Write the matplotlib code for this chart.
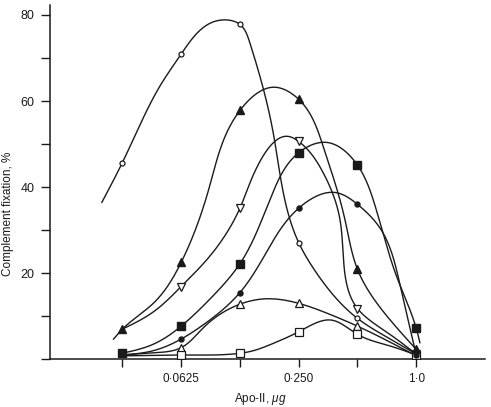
import numpy as np
import matplotlib
matplotlib.use("Agg")
import matplotlib.pyplot as plt
from matplotlib.ticker import NullLocator, FixedLocator

plt.rcParams['font.family'] = ['Liberation Sans', 'DejaVu Sans']
plt.rcParams['mathtext.fontset'] = 'custom'
plt.rcParams['mathtext.it'] = 'Liberation Sans:italic'
plt.rcParams['mathtext.rm'] = 'Liberation Sans'

# Apo-II dose, ug (log2 steps)
doses = [0.03125, 0.0625, 0.125, 0.25, 0.5, 1.0]
dose_labels = ['', '0\u00b70625', '', '0\u00b7250', '', '1\u00b70']

# complement fixation, % (markers); nan = hidden under another marker
open_circle = [45.7, 70.9, 77.8, 27.1, 9.5, 1.2]
filled_tri = [7.0, 22.5, 57.8, 60.4, 20.9, 2.3]
open_vtri = [np.nan, 16.9, 35.1, 50.6, 11.8, 1.2]
filled_sq = [1.4, 7.7, 22.2, 48.0, 45.1, 7.2]
filled_dot = [np.nan, 4.7, 15.5, 35.1, 36.0, 1.0]
open_tri = [np.nan, 2.7, 12.8, 13.0, 7.7, 0.8]
open_sq = [np.nan, 1.0, 1.4, 6.4, 5.8, 1.0]

# hand-drawn curves, points
circle_cx = [0.0245, 0.03125, 0.0385, 0.0487, 0.0625, 0.0968, 0.125, 0.1408, 0.1853, 0.25, 0.309, 0.5, 0.717, 1.0]
circle_cy = [36.4, 45.7, 54.5, 63.5, 70.9, 78.7, 77.8, 73.4, 52.5, 27.1, 20.0, 9.5, 5.0, 1.2]
tri_cx = [0.0281, 0.03125, 0.0450, 0.0625, 0.0878, 0.125, 0.1890, 0.25, 0.334, 0.4316, 0.5, 0.700, 1.0]
tri_cy = [4.65, 7.0, 13.0, 22.5, 40.5, 57.8, 63.2, 60.4, 49.4, 32.4, 20.9, 10.3, 2.3]
vtri_cx = [0.03125, 0.0450, 0.0625, 0.0878, 0.125, 0.1523, 0.2256, 0.25, 0.334, 0.407, 0.5, 0.717, 1.0]
vtri_cy = [7.0, 11.0, 16.9, 24.0, 35.1, 44.5, 51.7, 50.6, 43.3, 32.4, 11.8, 6.1, 1.2]
sq_cx = [0.03125, 0.0450, 0.0625, 0.0878, 0.125, 0.1853, 0.25, 0.345, 0.5, 0.6025, 0.794, 1.0, 1.045]
sq_cy = [1.4, 3.5, 7.7, 14.0, 22.2, 39.0, 48.0, 50.4, 45.1, 37.0, 19.2, 7.2, 3.8]
dot_cx = [0.03125, 0.0450, 0.0625, 0.0811, 0.125, 0.1751, 0.25, 0.391, 0.5, 0.652, 0.826, 1.0]
dot_cy = [1.0, 2.0, 4.7, 8.0, 15.5, 25.7, 35.1, 38.7, 36.0, 30.5, 17.3, 1.0]
otri_cx = [0.03125, 0.0450, 0.0625, 0.0811, 0.125, 0.1621, 0.25, 0.363, 0.5, 0.734, 1.0]
otri_cy = [1.0, 1.5, 2.7, 7.3, 12.8, 14.0, 13.0, 10.4, 7.7, 4.0, 0.8]
osq_cx = [0.03125, 0.0450, 0.0625, 0.125, 0.1408, 0.1853, 0.25, 0.369, 0.5, 0.734, 1.0]
osq_cy = [0.8, 0.9, 1.0, 1.4, 1.8, 3.7, 6.4, 9.1, 5.8, 3.1, 1.0]

PX_X = 58.77   # px per doubling
PX_Y = 4.304   # px per percent


def nat_spline(t, v, tt):
    n = len(t)
    h = np.diff(t)
    A = np.zeros((n, n))
    r = np.zeros(n)
    A[0, 0] = A[-1, -1] = 1
    for i in range(1, n - 1):
        A[i, i - 1] = h[i - 1]
        A[i, i] = 2 * (h[i - 1] + h[i])
        A[i, i + 1] = h[i]
        r[i] = 6 * ((v[i + 1] - v[i]) / h[i] - (v[i] - v[i - 1]) / h[i - 1])
    M = np.linalg.solve(A, r)
    k = np.clip(np.searchsorted(t, tt) - 1, 0, n - 2)
    a = t[k + 1] - tt
    b = tt - t[k]
    hk = h[k]
    return (M[k] * a ** 3 + M[k + 1] * b ** 3) / (6 * hk) \
        + (v[k] / hk - M[k] * hk / 6) * a + (v[k + 1] / hk - M[k + 1] * hk / 6) * b


def smooth(xs, ys, n=500):
    # parametric cubic spline, chord length measured in screen pixels
    u = np.log2(xs) * PX_X
    w = np.asarray(ys, float) * PX_Y
    t = np.concatenate([[0], np.cumsum(np.hypot(np.diff(u), np.diff(w)))])
    tt = np.linspace(0, t[-1], n)
    return 2 ** (nat_spline(t, u, tt) / PX_X), nat_spline(t, w, tt) / PX_Y


fig = plt.figure(figsize=(4.91, 4.07), dpi=100)
ax = fig.add_axes([49.5 / 491, 47.7 / 407, (485 - 49.5) / 491, (359.3 - 5) / 407])

ink = '#1a1a1a'
curves = [(circle_cx, circle_cy), (tri_cx, tri_cy), (vtri_cx, vtri_cy), (sq_cx, sq_cy),
          (dot_cx, dot_cy), (otri_cx, otri_cy), (osq_cx, osq_cy)]
for cx, cy in curves:
    sx, sy = smooth(cx, cy)
    ax.plot(sx, sy, color=ink, lw=1.0, zorder=2, solid_capstyle='round')

# markers: open first, filled on top
ax.plot(doses, open_circle, 'o', ms=3.6, mfc='white', mec=ink, mew=0.9, zorder=3)
ax.plot(doses, open_vtri, 'v', ms=5.5, mfc='white', mec=ink, mew=0.9, zorder=3)
ax.plot(doses, open_tri, '^', ms=5.5, mfc='white', mec=ink, mew=0.9, zorder=3)
ax.plot(doses, open_sq, 's', ms=5.2, mfc='white', mec=ink, mew=0.9, zorder=3)
ax.plot(doses, filled_dot, 'o', ms=3.6, color=ink, zorder=4)
ax.plot(doses, filled_sq, 's', ms=6.0, color=ink, zorder=4)
ax.plot(doses, filled_tri, '^', ms=6.0, color=ink, zorder=4)

ax.set_xscale('log', base=2)
ax.set_xlim(0.01323, 2.25)
ax.set_ylim(0, 82.3)
ax.xaxis.set_major_locator(FixedLocator(doses))
ax.xaxis.set_minor_locator(NullLocator())
ax.set_xticklabels(dose_labels)
ax.set_yticks([0, 20, 40, 60, 80])
ax.set_yticklabels(['', '20', '40', '60', '80'])
ax.yaxis.set_minor_locator(FixedLocator([10, 30, 50, 70]))

for s in ['top', 'right']:
    ax.spines[s].set_visible(False)
for s in ['left', 'bottom']:
    ax.spines[s].set_linewidth(1.1)
    ax.spines[s].set_color(ink)

ax.tick_params(axis='x', which='major', direction='out', length=5.5, width=1.0,
               color=ink, labelsize=8.5, labelcolor=ink, pad=4.5)
ax.tick_params(axis='y', which='both', direction='out', length=6.8, width=1.0,
               color=ink, labelsize=9, labelcolor=ink, pad=4)

ax.set_xlabel(r'Apo-II, $\mu g$', fontsize=8.5, color=ink, va='center')
ax.xaxis.set_label_coords(0.483, -0.112)
ax.set_ylabel('Complement fixation, %', fontsize=8.5, color=ink, va='center')
ax.yaxis.set_label_coords(-0.095, 0.41)

fig.savefig('out.png', dpi=100)
